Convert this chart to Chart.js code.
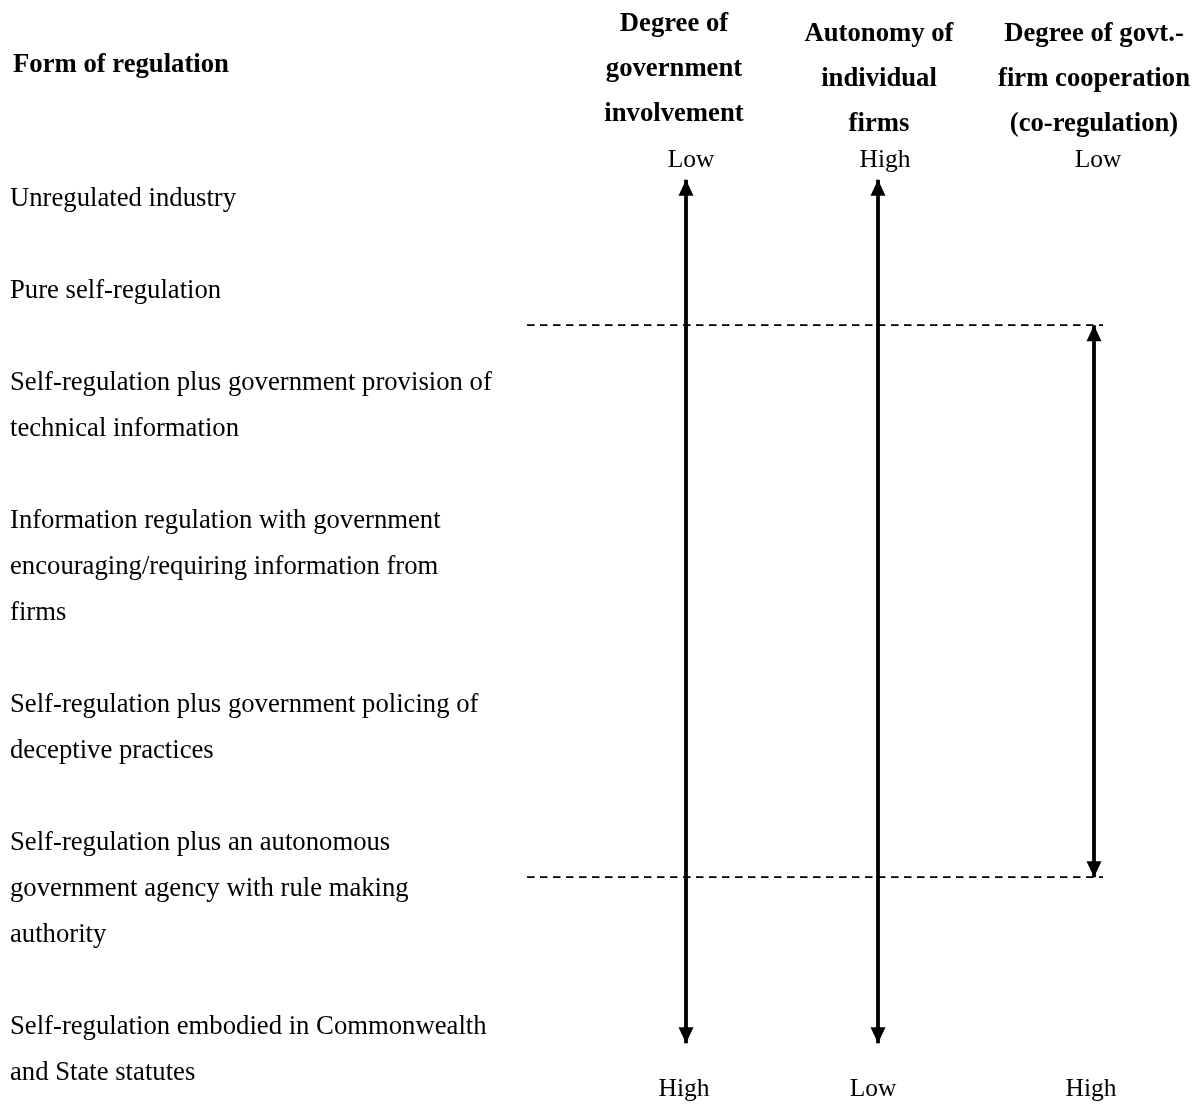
<!DOCTYPE html>
<html>
<head>
<meta charset="utf-8">
<script src="https://cdn.jsdelivr.net/npm/chart.js@4.4.1/dist/chart.umd.min.js"></script>
<style>
  html, body { margin: 0; padding: 0; background: #ffffff; }
  #wrap { width: 1202px; height: 1104px; position: relative; }
  canvas { display: block; }
</style>
</head>
<body>
<div id="wrap"><canvas id="c" width="1202" height="1104"></canvas></div>
<script>
// ---------------- DATA ----------------
// Forms of regulation (categories), each split into its printed lines
const formTitle = 'Form of regulation';
const forms = [
  ['Unregulated industry'],
  ['Pure self-regulation'],
  ['Self-regulation plus government provision of', 'technical information'],
  ['Information regulation with government', 'encouraging/requiring information from', 'firms'],
  ['Self-regulation plus government policing of', 'deceptive practices'],
  ['Self-regulation plus an autonomous', 'government agency with rule making', 'authority'],
  ['Self-regulation embodied in Commonwealth', 'and State statutes']
];
// Dimension columns (series)
const dimensions = [
  ['Degree of', 'government', 'involvement'],
  ['Autonomy of', 'individual', 'firms'],
  ['Degree of govt.-', 'firm cooperation', '(co-regulation)']
];
const topEnds = ['Low', 'High', 'Low'];
const bottomEnds = ['High', 'Low', 'High'];
// Span of each dimension arrow along the continuum (in text-line units, 0 = first form)
const arrowStart = [-0.57, -0.57, 2.59];
const arrowEnd = [18.2, 18.2, 14.59];
// Co-regulation band limits (text-line units)
const coRegBand = [2.59, 14.59];

// ---------------- LAYOUT ----------------
const W = 1202, H = 1104;
const LINE = 46;           // px per text line
const FIRST = 206;         // baseline of first form line
const yMin = -FIRST / LINE;
const yMax = yMin + H / LINE;
const colX = [686, 878, 1094];
const bandX = [527, 1103];
const formStartLine = [];
(function () { let l = 0; forms.forEach(f => { formStartLine.push(l); l += f.length + 1; }); })();

const SERIF = '"Liberation Serif", "Times New Roman", Times, serif';

// ---------------- DATASETS ----------------
const datasets = [];
dimensions.forEach((d, i) => {
  datasets.push({
    label: d.join(' '),
    data: [{ x: colX[i], y: arrowStart[i] }, { x: colX[i], y: arrowEnd[i] }],
    showLine: true,
    borderColor: '#000',
    backgroundColor: '#000',
    borderWidth: 3.8,
    pointRadius: 0,
    arrow: true
  });
});
coRegBand.forEach((v, i) => {
  datasets.push({
    label: 'band' + i,
    data: [{ x: bandX[0], y: v }, { x: bandX[1], y: v }],
    showLine: true,
    borderColor: '#000',
    borderWidth: 1.8,
    borderDash: [7.5, 5.5],
    pointRadius: 0
  });
});

// ---------------- PLUGINS ----------------
const arrowHeads = {
  id: 'arrowHeads',
  afterDatasetsDraw(chart) {
    const ctx = chart.ctx;
    chart.data.datasets.forEach((ds, i) => {
      if (!ds.arrow) return;
      const pts = chart.getDatasetMeta(i).data;
      const a = pts[0], b = pts[pts.length - 1];
      const hw = 7.5, hl = 16;
      ctx.save();
      ctx.fillStyle = '#000';
      ctx.beginPath();
      ctx.moveTo(a.x, a.y);
      ctx.lineTo(a.x - hw, a.y + hl);
      ctx.lineTo(a.x + hw, a.y + hl);
      ctx.closePath();
      ctx.fill();
      ctx.beginPath();
      ctx.moveTo(b.x, b.y);
      ctx.lineTo(b.x - hw, b.y - hl);
      ctx.lineTo(b.x + hw, b.y - hl);
      ctx.closePath();
      ctx.fill();
      ctx.restore();
    });
  }
};

const textLayer = {
  id: 'textLayer',
  afterDraw(chart) {
    const ctx = chart.ctx;
    const xs = chart.scales.x, ys = chart.scales.y;
    const py = v => ys.getPixelForValue(v);
    const byPx = p => (p - FIRST) / LINE; // convert a baseline px offset to line units
    ctx.save();
    ctx.fillStyle = '#000';
    ctx.textBaseline = 'alphabetic';
    // Title of form column
    ctx.font = 'bold 26.7px ' + SERIF;
    ctx.textAlign = 'left';
    ctx.fillText(formTitle, xs.getPixelForValue(13), py(byPx(72)));
    // Forms
    ctx.font = '26.7px ' + SERIF;
    forms.forEach((f, i) => {
      f.forEach((line, j) => {
        ctx.fillText(line, xs.getPixelForValue(10), py(formStartLine[i] + j));
      });
    });
    // Dimension headers
    const headCx = [674, 879, 1094];
    const headBase = [31, 41, 41];
    ctx.font = 'bold 26.7px ' + SERIF;
    ctx.textAlign = 'center';
    dimensions.forEach((d, i) => {
      d.forEach((line, j) => {
        ctx.fillText(line, xs.getPixelForValue(headCx[i]), py(byPx(headBase[i]) + j * 0.98));
      });
    });
    // End labels
    const topCx = [691, 885, 1098];
    const botCx = [684, 873, 1091];
    ctx.font = '25.5px ' + SERIF;
    topEnds.forEach((t, i) => ctx.fillText(t, xs.getPixelForValue(topCx[i]), py(byPx(167))));
    bottomEnds.forEach((t, i) => ctx.fillText(t, xs.getPixelForValue(botCx[i]), py(byPx(1096))));
    ctx.restore();
  }
};

// ---------------- CHART ----------------
new Chart(document.getElementById('c'), {
  type: 'scatter',
  data: { datasets },
  options: {
    responsive: false,
    animation: false,
    devicePixelRatio: 1,
    layout: { padding: 0 },
    plugins: { legend: { display: false }, tooltip: { enabled: false }, title: { display: false } },
    scales: {
      x: { type: 'linear', min: 0, max: W, display: false },
      y: { type: 'linear', min: yMin, max: yMax, reverse: true, display: false }
    },
    elements: { line: { tension: 0, borderCapStyle: 'butt' } }
  },
  plugins: [arrowHeads, textLayer]
});
</script>
</body>
</html>
